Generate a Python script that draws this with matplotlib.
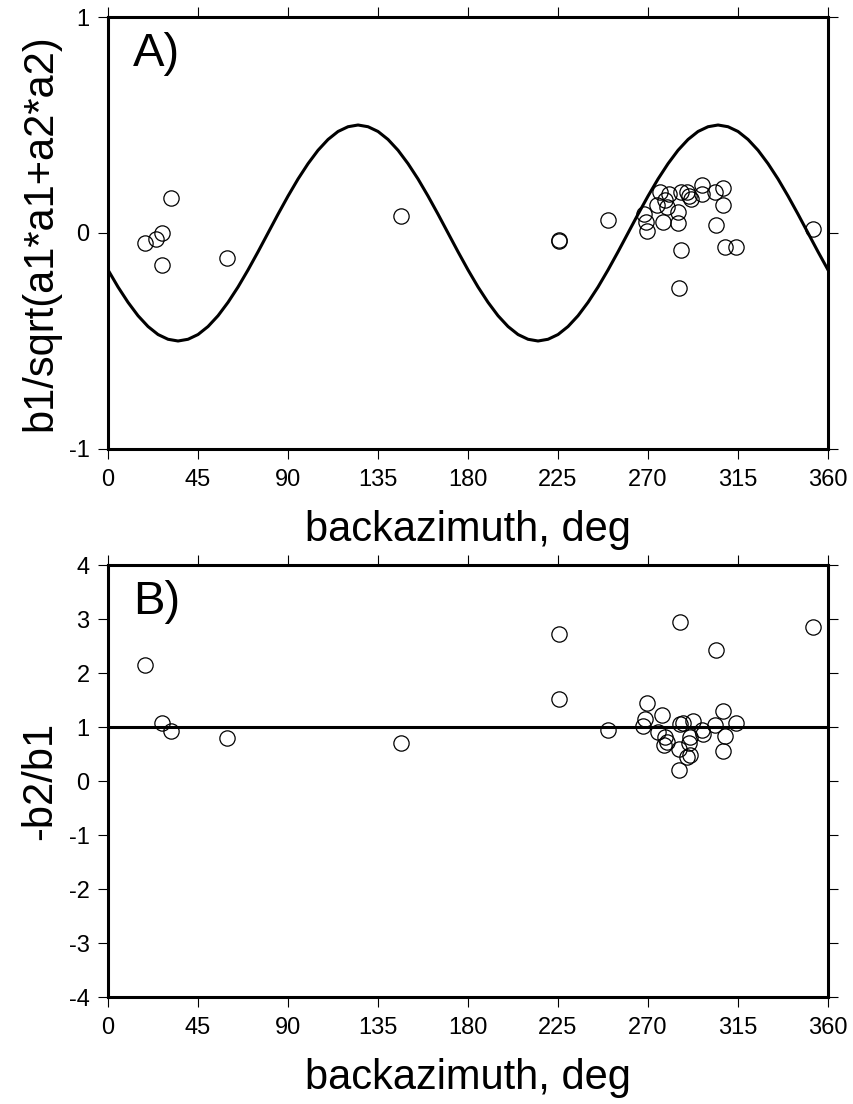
#-------------------------------------------------
#             LIBRARIES
#-------------------------------------------------
import numpy as np
import matplotlib
matplotlib.use("Agg")
import matplotlib.pyplot as plt

#-------------------------------------------------
#             DATA
#-------------------------------------------------
# model curve, panel A, every 5 deg from 0 to 360
curve_baz = np.arange(0, 361, 5)
curve_val = [-0.171, -0.250, -0.321, -0.383, -0.433, -0.470, -0.492, -0.500,
             -0.492, -0.470, -0.433, -0.383, -0.321, -0.250, -0.171, -0.087,
             0.000, 0.087, 0.171, 0.250, 0.321, 0.383, 0.433, 0.470,
             0.492, 0.500, 0.492, 0.470, 0.433, 0.383, 0.321, 0.250,
             0.171, 0.087, 0.000, -0.087,
             -0.171, -0.250, -0.321, -0.383, -0.433, -0.470, -0.492, -0.500,
             -0.492, -0.470, -0.433, -0.383, -0.321, -0.250, -0.171, -0.087,
             0.000, 0.087, 0.171, 0.250, 0.321, 0.383, 0.433, 0.470,
             0.492, 0.500, 0.492, 0.470, 0.433, 0.383, 0.321, 0.250,
             0.171, 0.087, 0.000, -0.087, -0.171]

# panel A measurements
baz_a = [18.5, 24.0, 27.2, 31.4, 26.9, 59.4, 146.5, 225.5, 225.7, 249.8,
         268.0, 269.0, 269.5, 276.0, 274.3, 277.7, 278.5, 279.7, 280.7,
         285.2, 285.2, 286.3, 289.7, 290.7, 291.5, 296.8, 296.8, 303.5,
         307.7, 307.7, 303.8, 286.3, 308.5, 313.8, 285.7, 352.5]
val_a = [-0.046, -0.028, -0.001, 0.163, -0.147, -0.117, 0.079, -0.032, -0.037, 0.060,
         0.088, 0.051, 0.009, 0.191, 0.130, 0.052, 0.153, 0.122, 0.181,
         0.099, 0.048, 0.188, 0.191, 0.171, 0.156, 0.222, 0.181, 0.188,
         0.207, 0.130, 0.037, -0.079, -0.063, -0.066, -0.256, 0.019]

# panel B measurements
baz_b = [18.5, 26.9, 31.4, 59.4, 146.5, 225.5, 225.5, 250.2, 269.4, 268.5,
         267.7, 277.2, 275.2, 278.5, 279.4, 278.0, 286.0, 287.4, 285.7, 285.7,
         286.0, 291.0, 290.5, 291.0, 289.7, 292.4, 296.9, 297.7, 303.5, 303.8,
         307.7, 308.5, 307.4, 313.8, 352.7]
val_b = [2.15, 1.08, 0.93, 0.79, 0.70, 2.72, 1.51, 0.94, 1.44, 1.14,
         1.01, 1.22, 0.91, 0.81, 0.73, 0.67, 1.06, 1.07, 0.59, 0.20,
         2.95, 0.81, 0.71, 0.49, 0.45, 1.11, 0.94, 0.87, 1.04, 2.43,
         1.30, 0.83, 0.56, 1.07, 2.86]
ref_level_b = 1.0

x_ticks = [0, 45, 90, 135, 180, 225, 270, 315, 360]
y_ticks_a = [-1, 0, 1]
y_ticks_b = [-4, -3, -2, -1, 0, 1, 2, 3, 4]

#-------------------------------------------------
#             STYLE
#-------------------------------------------------
plt.rcParams['font.family'] = ['Liberation Sans', 'DejaVu Sans']
plt.rcParams['axes.linewidth'] = 2.2
plt.rcParams['axes.unicode_minus'] = False   # plain hyphen like the original

fig = plt.figure(figsize=(8.54, 11.04), dpi=100)
ax1 = fig.add_axes([0.1265, 0.5933, 0.8431, 0.3913])
ax2 = fig.add_axes([0.1265, 0.0969, 0.8431, 0.3913])


def frame(ax, yticks, ylims, ylabel, tag):
    ax.set_xlim(0, 360)
    ax.set_ylim(*ylims)
    ax.set_xticks(x_ticks)
    ax.set_yticks(yticks)
    ax.tick_params(direction='out', length=7.2, width=0.8, labelsize=17,
                   top=True, right=True)
    ax.tick_params(axis='x', pad=7)
    ax.tick_params(axis='y', pad=6)
    ax.set_xlabel('backazimuth, deg', fontsize=30, labelpad=14)
    ax.set_ylabel(ylabel, fontsize=30, labelpad=6)
    ax.text(0.035, 0.965, tag, transform=ax.transAxes, fontsize=34,
            va='top', ha='left')


#-------------------------------------------------
#             PANEL A
#-------------------------------------------------
ax1.plot(curve_baz, curve_val, color='black', lw=2.2)
ax1.plot(baz_a, val_a, 'o', ms=11, mfc='none', mec='black', mew=0.9)
frame(ax1, y_ticks_a, (-1, 1), 'b1/sqrt(a1*a1+a2*a2)', 'A)')

#-------------------------------------------------
#             PANEL B
#-------------------------------------------------
ax2.axhline(ref_level_b, color='black', lw=2.2)
ax2.plot(baz_b, val_b, 'o', ms=11, mfc='none', mec='black', mew=0.9)
frame(ax2, y_ticks_b, (-4, 4), '-b2/b1', 'B)')

plt.savefig('out.png', dpi=100)
